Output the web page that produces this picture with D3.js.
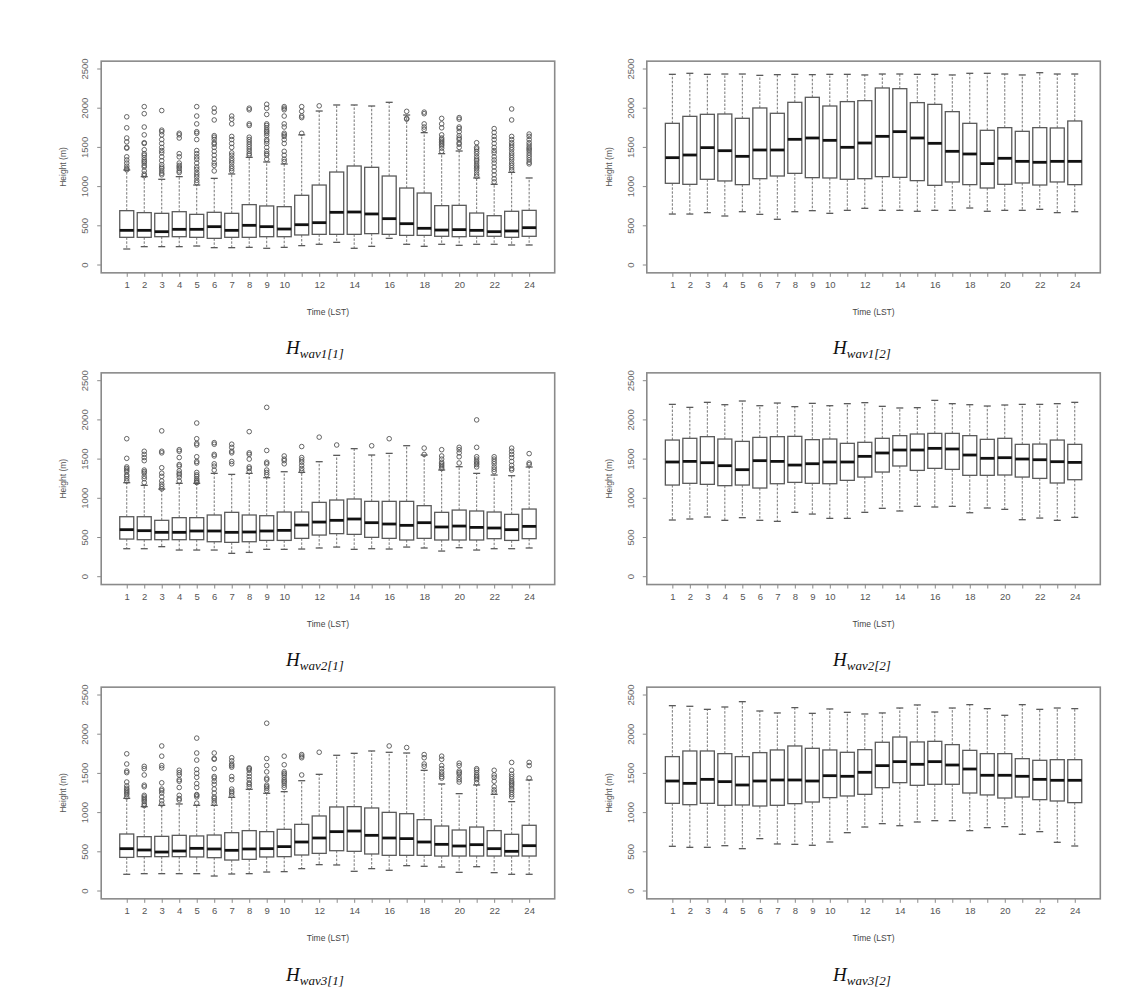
<!DOCTYPE html>
<html><head><meta charset="utf-8">
<script src="https://cdn.jsdelivr.net/npm/d3@7"></script>
<style>body{margin:0;background:#fff}svg{display:block}</style>
</head><body>
<svg id="c" width="1138" height="999"></svg>
<script>
const hours = [1,2,3,4,5,6,7,8,9,10,11,12,13,14,15,16,17,18,19,20,21,22,23,24];
const hourLabels = ["1","2","3","4","5","6","7","8","9","10","","12","","14","","16","","18","","20","","22","","24"];
const yTicks = [0,500,1000,1500,2000,2500];
const captions = ["wav1[1]","wav1[2]","wav2[1]","wav2[2]","wav3[1]","wav3[2]"];

// box stats per hour: [lower whisker, Q1, median, Q3, upper whisker]
const wav1_1 = [[204,353,442,693,1212],[234,353,442,668,1127],[234,361,425,659,1093],[234,361,455,680,1127],[242,353,455,646,1020],[221,340,489,672,1105],[221,353,442,659,1161],[225,353,506,770,1373],[213,361,489,753,1314],[225,361,459,744,1288],[247,383,514,889,1660],[264,391,540,1020,1964],[289,391,672,1186,2041],[213,391,676,1263,2041],[238,400,651,1246,2028],[340,391,591,1135,2075],[264,378,527,982,1913],[238,378,468,918,1688],[264,366,446,757,1420],[251,361,451,761,1454],[264,366,442,663,1110],[264,366,425,629,1029],[255,353,434,685,1182],[255,366,476,697,1110]];
const wav1_1_out = [[1890,1750,1620,1570,1500,1490,1380,1340,1300,1260,1230,1215],[2020,1930,1760,1660,1560,1550,1470,1420,1400,1370,1340,1320,1300,1270,1250,1200,1160,1140],[1970,1720,1700,1660,1600,1550,1500,1460,1430,1380,1330,1280,1250,1230,1200,1170,1150],[1680,1660,1620,1420,1380,1300,1270,1250,1230,1200,1180],[2020,1900,1800,1700,1680,1600,1460,1420,1380,1350,1300,1250,1220,1180,1150,1120,1080,1050],[2000,1950,1850,1650,1630,1600,1560,1540,1500,1450,1400,1350,1300,1270,1200],[1900,1860,1800,1640,1600,1550,1500,1430,1400,1360,1330,1300,1260,1230,1200],[2000,1980,1800,1780,1630,1600,1570,1540,1510,1480,1450,1420,1400],[2050,2000,1920,1800,1780,1750,1720,1700,1680,1650,1600,1580,1550,1500,1450,1420,1400,1350],[2020,2000,1980,1900,1800,1760,1680,1660,1640,1600,1550,1450,1400,1350,1320],[2020,1960,1900,1880,1680],[2030],[],[],[],[],[1960,1870,1860],[1950,1930,1800,1760,1730],[1870,1800,1750,1660,1620,1600,1580,1560,1540,1520,1490,1450],[1880,1860,1760,1740,1700,1650,1620,1600,1560,1540,1500],[1560,1500,1480,1450,1420,1380,1350,1330,1300,1270,1250,1230,1200,1160,1130],[1740,1690,1640,1600,1550,1500,1460,1430,1380,1340,1300,1250,1200,1150,1100,1060],[1990,1850,1640,1600,1560,1530,1500,1470,1430,1400,1370,1340,1300,1270,1240,1210],[1670,1640,1600,1560,1530,1500,1480,1460,1430,1400,1370,1340,1310,1290]];

const wav1_2 = [[650,1042,1369,1807,2432],[650,1029,1403,1896,2445],[668,1093,1497,1922,2432],[625,1072,1458,1926,2436],[680,1025,1386,1871,2436],[646,1101,1467,2003,2419],[583,1135,1467,1935,2428],[680,1169,1603,2075,2432],[693,1114,1620,2139,2428],[659,1110,1590,2028,2432],[697,1093,1501,2084,2432],[723,1101,1556,2096,2424],[697,1127,1641,2258,2436],[697,1118,1701,2249,2436],[685,1076,1620,2071,2432],[697,1016,1552,2049,2432],[697,1059,1450,1956,2424],[727,1025,1416,1807,2445],[685,982,1293,1718,2445],[697,1029,1361,1752,2436],[697,1046,1322,1705,2424],[710,1020,1310,1752,2453],[668,1059,1322,1748,2436],[680,1025,1322,1837,2436]];
const wav1_2_out = [[],[],[],[],[],[],[],[],[],[],[],[],[],[],[],[],[],[],[],[],[],[],[],[]];

const wav2_1 = [[357,480,600,765,1199],[357,472,587,765,1165],[383,472,566,719,1118],[340,472,566,753,1191],[340,472,583,753,1191],[340,446,583,787,1318],[298,438,566,821,1305],[310,446,570,787,1318],[349,463,583,778,1263],[349,463,591,825,1339],[353,489,659,825,1331],[366,531,697,948,1467],[378,549,719,978,1548],[349,540,736,991,1633],[357,502,689,961,1552],[353,489,672,961,1573],[378,468,655,961,1671],[366,489,689,906,1552],[327,468,634,821,1361],[370,468,646,850,1403],[340,468,629,838,1318],[357,485,621,825,1297],[357,463,600,795,1288],[366,485,642,863,1399]];
const wav2_1_out = [[1760,1510,1400,1380,1360,1340,1300,1280,1250,1220],[1600,1560,1520,1480,1360,1340,1320,1280,1250,1200],[1860,1600,1580,1390,1320,1280,1220,1180,1150,1120],[1620,1600,1520,1430,1410,1350,1320,1300,1270,1220],[1960,1760,1700,1680,1530,1470,1450,1330,1300,1280,1250,1230,1210,1200],[1710,1690,1560,1540,1440,1410,1360],[1690,1650,1600,1580,1470,1440],[1850,1580,1560,1500,1400,1380,1340],[2160,1610,1460,1440,1360,1330,1300],[1540,1500,1480,1440],[1660,1520,1490,1460,1420,1380,1350],[1780],[1680],[],[1670],[1760],[],[1640,1560],[1620,1540,1500,1460,1440,1420,1400,1380],[1650,1620,1580,1530,1450],[2000,1650,1530,1500,1470,1450,1430,1400],[1530,1500,1470,1440,1400,1370,1340],[1640,1600,1560,1520,1470,1420,1380,1360],[1570,1450,1430]];

const wav2_2 = [[723,1169,1463,1743,2198],[736,1191,1471,1765,2160],[761,1178,1454,1786,2224],[719,1161,1416,1756,2194],[753,1169,1365,1726,2241],[719,1131,1480,1777,2181],[706,1186,1471,1786,2215],[821,1203,1424,1790,2169],[799,1191,1441,1748,2211],[744,1186,1463,1756,2181],[744,1229,1463,1701,2207],[821,1271,1535,1714,2220],[872,1335,1578,1765,2173],[838,1412,1616,1799,2152],[897,1356,1616,1820,2156],[889,1382,1637,1828,2249],[897,1369,1629,1828,2207],[816,1293,1552,1799,2194],[876,1293,1510,1752,2177],[859,1297,1518,1765,2190],[727,1271,1501,1688,2198],[748,1254,1492,1692,2198],[719,1195,1467,1743,2207],[757,1237,1458,1688,2224]];
const wav2_2_out = [[],[],[],[],[],[],[],[],[],[],[],[],[],[],[],[],[],[],[],[],[],[],[],[]];

const wav3_1 = [[213,429,540,727,1182],[221,438,523,693,1076],[221,438,497,697,1093],[221,438,510,710,1110],[221,434,544,702,1093],[191,425,536,714,1093],[217,395,519,744,1195],[221,404,536,770,1297],[242,434,540,757,1246],[247,438,566,787,1267],[285,459,625,850,1407],[336,480,676,957,1488],[332,514,757,1072,1731],[251,506,765,1076,1756],[285,472,710,1059,1786],[264,455,676,1003,1769],[323,455,668,986,1760],[315,455,625,910,1539],[306,446,595,829,1365],[238,446,574,778,1242],[310,446,591,816,1352],[234,446,540,770,1233],[213,446,506,723,1140],[213,446,578,838,1416]];
const wav3_1_out = [[1750,1620,1530,1510,1390,1340,1310,1290,1270,1250,1230,1200],[1590,1560,1480,1350,1330,1220,1200,1180,1160,1140,1110,1090],[1850,1720,1600,1570,1380,1300,1280,1250,1200,1150,1110],[1540,1510,1480,1420,1400,1320,1220,1180,1160],[1950,1760,1670,1550,1500,1450,1370,1320,1230,1220,1200,1120],[1760,1690,1680,1560,1460,1440,1400,1360,1300,1250,1200,1180,1150,1120],[1700,1660,1620,1600,1580,1460,1420,1300,1270,1250,1220],[1570,1560,1540,1500,1460,1420,1380,1360,1330],[2140,1690,1600,1520,1440,1420,1350,1330,1310,1280],[1720,1610,1520,1500,1480,1450,1420,1400,1380,1350,1320],[1740,1720,1700,1480],[1770],[],[],[],[1850],[1830],[1740,1700,1620,1590],[1720,1680,1600,1560,1520,1490,1460,1440],[1630,1600,1530,1510,1490,1450,1420,1390],[1560,1540,1510,1480,1460,1440,1420,1380],[1540,1480,1450,1400,1330,1290,1260],[1640,1540,1490,1460,1430,1400,1380,1360,1340,1310,1290,1260,1230,1200],[1640,1600,1440]];

const wav3_2 = [[570,1118,1403,1714,2364],[557,1101,1373,1786,2356],[557,1118,1424,1786,2317],[578,1093,1395,1752,2347],[540,1097,1352,1714,2415],[668,1084,1403,1765,2296],[600,1093,1416,1799,2271],[595,1114,1416,1850,2339],[583,1135,1403,1820,2266],[625,1191,1471,1799,2322],[744,1212,1463,1769,2279],[816,1233,1514,1803,2258],[859,1318,1599,1897,2271],[833,1382,1650,1964,2334],[880,1348,1616,1901,2373],[897,1361,1650,1909,2283],[897,1361,1607,1867,2334],[770,1250,1556,1794,2377],[808,1225,1476,1752,2326],[821,1186,1476,1752,2241],[723,1199,1463,1688,2377],[757,1165,1424,1667,2317],[621,1148,1412,1675,2334],[574,1127,1412,1675,2326]];
const wav3_2_out = [[],[],[],[],[],[],[],[],[],[],[],[],[],[],[],[],[],[],[],[],[],[],[],[]];

const panels = [
  {stats: wav1_1, out: wav1_1_out, col: 0, row: 0, cap: captions[0]},
  {stats: wav1_2, out: wav1_2_out, col: 1, row: 0, cap: captions[1]},
  {stats: wav2_1, out: wav2_1_out, col: 0, row: 1, cap: captions[2]},
  {stats: wav2_2, out: wav2_2_out, col: 1, row: 1, cap: captions[3]},
  {stats: wav3_1, out: wav3_1_out, col: 0, row: 2, cap: captions[4]},
  {stats: wav3_2, out: wav3_2_out, col: 1, row: 2, cap: captions[5]}
];

const colX = [[101.2, 554.7], [646.8, 1100.3]];   // plot region left/right
const rowY0 = [265, 576.7, 891];                    // pixel of value 0
const unit = 196 / 2500;
const capX = [286, 833];
const capY = [354, 666, 981];

const svg = d3.select("#c");
const frameCol = "#8a8a8a", boxCol = "#5a5a5a", lineCol = "#777";

panels.forEach(p => {
  const x = d3.scaleLinear().domain([-0.46, 25.46]).range(colX[p.col]);
  const y0 = rowY0[p.row];
  const y = d3.scaleLinear().domain([-100, 2600]).range([y0 + 100 * unit, y0 - 2600 * unit]);
  const g = svg.append("g");
  const [xl, xr] = x.range();
  const [yb, yt] = y.range();
  const bw = 0.8 * (x(2) - x(1));
  const cw = bw * 0.5;

  // frame
  g.append("rect").attr("x", xl).attr("y", yt).attr("width", xr - xl).attr("height", yb - yt)
    .attr("fill", "none").attr("stroke", frameCol).attr("stroke-width", 1.6);

  // y axis
  const ya = g.append("g").attr("transform", `translate(${xl},0)`)
    .call(d3.axisLeft(y).tickValues(yTicks).tickSize(4).tickPadding(0).tickFormat(d3.format("d")));
  ya.select(".domain").remove();
  ya.selectAll(".tick line").attr("stroke", frameCol).attr("stroke-width", 1);
  ya.selectAll(".tick").attr("transform", d => `translate(0,${y(d)})`);
  ya.selectAll(".tick text").attr("transform", "rotate(-90)").attr("x", 0).attr("y", -13).attr("dy", 0)
    .attr("text-anchor", "middle").attr("fill", "#666").attr("font-family", "Liberation Sans, Arial, sans-serif")
    .attr("font-size", 9.5);

  // x axis
  const xa = g.append("g").attr("transform", `translate(0,${yb})`)
    .call(d3.axisBottom(x).tickValues(hours).tickSize(4).tickPadding(0).tickFormat((d, i) => hourLabels[i]));
  xa.select(".domain").remove();
  xa.selectAll(".tick line").attr("stroke", frameCol).attr("stroke-width", 1);
  xa.selectAll(".tick text").attr("y", 12).attr("dy", "0.35em").attr("fill", "#555")
    .attr("font-family", "Liberation Sans, Arial, sans-serif").attr("font-size", 9.5);

  // axis titles
  g.append("text").attr("x", (xl + xr) / 2).attr("y", yb + 42).attr("text-anchor", "middle")
    .attr("font-family", "Liberation Sans, Arial, sans-serif").attr("font-size", 8.5).attr("fill", "#444")
    .text("Time (LST)");
  g.append("text").attr("transform", `translate(${xl - 35},${(yt + yb) / 2}) rotate(-90)`)
    .attr("text-anchor", "middle").attr("font-family", "Liberation Sans, Arial, sans-serif")
    .attr("font-size", 8.5).attr("fill", "#555").text("Height (m)");

  // boxes
  p.stats.forEach((s, i) => {
    const cx = x(hours[i]);
    const [lw, q1, md, q3, uw] = s;
    const bg = g.append("g");
    bg.append("line").attr("x1", cx).attr("x2", cx).attr("y1", y(q3)).attr("y2", y(uw))
      .attr("stroke", lineCol).attr("stroke-width", 1).attr("stroke-dasharray", "2.5,1.5");
    bg.append("line").attr("x1", cx).attr("x2", cx).attr("y1", y(q1)).attr("y2", y(lw))
      .attr("stroke", lineCol).attr("stroke-width", 1).attr("stroke-dasharray", "2.5,1.5");
    bg.append("line").attr("x1", cx - cw / 2).attr("x2", cx + cw / 2).attr("y1", y(uw)).attr("y2", y(uw))
      .attr("stroke", boxCol).attr("stroke-width", 1.3);
    bg.append("line").attr("x1", cx - cw / 2).attr("x2", cx + cw / 2).attr("y1", y(lw)).attr("y2", y(lw))
      .attr("stroke", boxCol).attr("stroke-width", 1.3);
    bg.append("rect").attr("x", cx - bw / 2).attr("y", y(q3)).attr("width", bw).attr("height", y(q1) - y(q3))
      .attr("fill", "#fff").attr("stroke", boxCol).attr("stroke-width", 1.3);
    bg.append("line").attr("x1", cx - bw / 2).attr("x2", cx + bw / 2).attr("y1", y(md)).attr("y2", y(md))
      .attr("stroke", "#111").attr("stroke-width", 2.8);
    bg.selectAll("circle").data(p.out[i]).join("circle")
      .attr("cx", cx).attr("cy", d => y(d)).attr("r", 2.3)
      .attr("fill", "none").attr("stroke", "#555").attr("stroke-width", 0.9);
  });

  // caption
  const t = svg.append("text").attr("x", capX[p.col]).attr("y", capY[p.row])
    .attr("font-family", "Liberation Serif, Times New Roman, serif").attr("font-style", "italic").attr("fill", "#111");
  t.append("tspan").attr("font-size", 19).text("H");
  t.append("tspan").attr("font-size", 13).attr("dy", 4).text(p.cap);
});
</script>
</body></html>
